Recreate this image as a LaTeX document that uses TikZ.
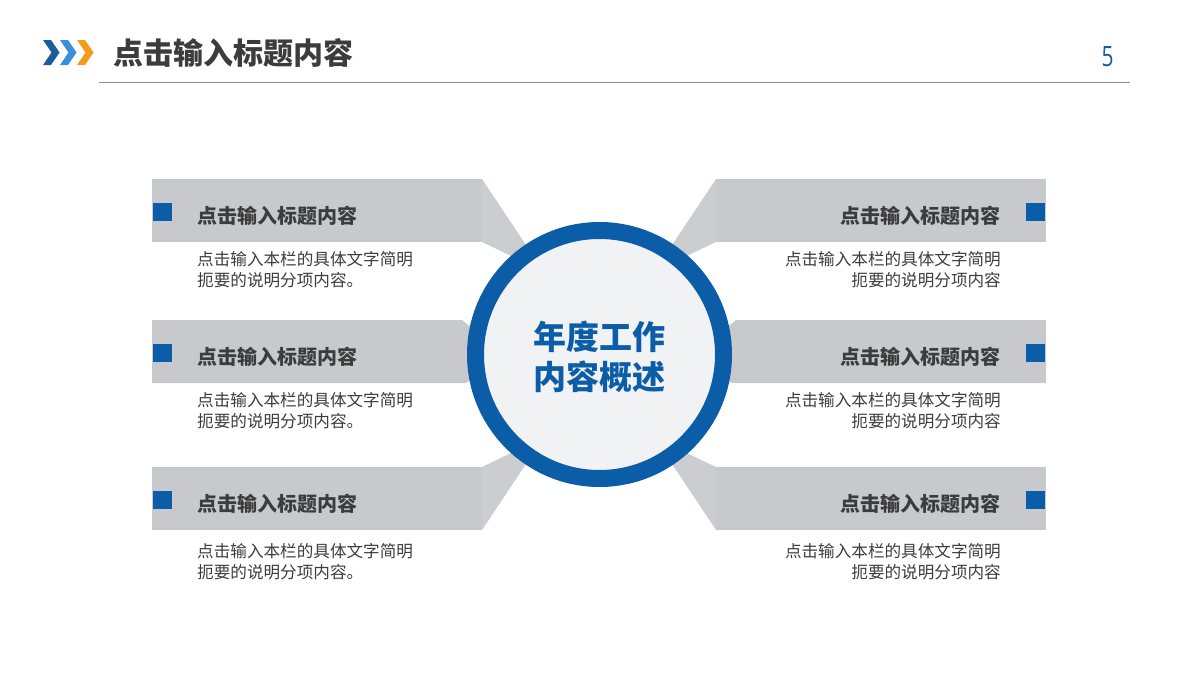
\documentclass[tikz,border=0pt]{standalone}
\usepackage{fontspec}
\newfontfamily\cjk{Noto Sans CJK SC}
\newfontfamily\numfont{Open Sans}
\definecolor{ringblue}{HTML}{0B5DA8}
\definecolor{bannergrey}{HTML}{C8C9CC}
\definecolor{conngrey}{HTML}{CCCDD0}
\definecolor{fillgrey}{HTML}{F1F2F4}
\definecolor{txtdark}{HTML}{3C3C3C}
\definecolor{chevdark}{HTML}{1E5AA0}
\definecolor{chevmid}{HTML}{3A8FDD}
\definecolor{chevorange}{HTML}{F29B1C}
\definecolor{rulegrey}{HTML}{8C8C8C}
\tikzset{
  banner/.style={fill=bannergrey},
  conn/.style={fill=conngrey},
  marker/.style={fill=ringblue},
  ttl/.style={inner sep=0, text=txtdark, font=\cjk\bfseries\fontsize{20}{24}\selectfont},
  desc/.style={inner sep=0, text=txtdark, font=\cjk\fontsize{16.6}{21}\selectfont},
}
\begin{document}
\begin{tikzpicture}[x=1pt,y=-1pt]
\useasboundingbox (0,0) rectangle (1200,680);
% header
\foreach \x/\c in {43/chevdark,60/chevmid,77/chevorange}
  \fill[\c] (\x,40) -- (\x+8,40) -- (\x+16.5,52.5) -- (\x+8,65) -- (\x,65) -- (\x+8.5,52.5) -- cycle;
\node[anchor=west, inner sep=0, text=txtdark, font=\cjk\bfseries\fontsize{30}{34}\selectfont] (head) at (113,53) {点击输入标题内容};
\node[inner sep=0, text=ringblue, font=\numfont\fontsize{28}{30}\selectfont] (page) at (1107.5,57) {\scalebox{0.75}[1]{5}};
\coordinate (rl) at (99,82.5);
\coordinate (rr) at (1130,82.5);
\draw[rulegrey, line width=1.1pt] (rl) -- (rr);
% left connectors
\fill[conn] (482,179) -- (536,260) -- (530,265) -- (482,242) -- cycle;
\fill[conn] (482,530) -- (536,449) -- (530,444) -- (482,467) -- cycle;
% right connectors
\fill[conn] (716,179) -- (662,260) -- (668,265) -- (716,242) -- cycle;
\fill[conn] (716,530) -- (662,449) -- (668,444) -- (716,467) -- cycle;
% banners
\fill[banner] (152,179) rectangle (482,242);
\fill[banner] (152,320) -- (462,320) -- (478,333) -- (478,376) -- (466,383) -- (152,383) -- cycle;
\fill[banner] (152,467) rectangle (482,530);
\fill[banner] (716,179) rectangle (1046,242);
\fill[banner] (1046,320) -- (736,320) -- (720,333) -- (720,376) -- (732,383) -- (1046,383) -- cycle;
\fill[banner] (716,467) rectangle (1046,530);
% markers
\foreach \y in {203,344,491} {
  \fill[marker] (153,\y) rectangle (172,\y+18);
  \fill[marker] (1026,\y) rectangle (1045,\y+18);
}
% hub
\node[circle, draw=ringblue, line width=17pt, fill=fillgrey, minimum size=248pt, inner sep=0] (hub) at (599.5,354.5) {};
\node[text=ringblue, inner sep=0, align=center, font=\cjk\bfseries\fontsize{33}{40}\selectfont] (hubtext) at (599,357) {年度工作\\内容概述};
% left texts
\node[ttl, anchor=west] (tl1) at (197,215.5) {点击输入标题内容};
\node[desc, anchor=west, align=left] (dl1) at (197,269.5) {点击输入本栏的具体文字简明\\扼要的说明分项内容。};
\node[ttl, anchor=west] (tl2) at (197,356.5) {点击输入标题内容};
\node[desc, anchor=west, align=left] (dl2) at (197,411) {点击输入本栏的具体文字简明\\扼要的说明分项内容。};
\node[ttl, anchor=west] (tl3) at (197,503.5) {点击输入标题内容};
\node[desc, anchor=west, align=left] (dl3) at (197,561.5) {点击输入本栏的具体文字简明\\扼要的说明分项内容。};
% right texts
\node[ttl, anchor=east] (tr1) at (1001,215.5) {点击输入标题内容};
\node[desc, anchor=east, align=right] (dr1) at (1001,269.5) {点击输入本栏的具体文字简明\\扼要的说明分项内容};
\node[ttl, anchor=east] (tr2) at (1001,356.5) {点击输入标题内容};
\node[desc, anchor=east, align=right] (dr2) at (1001,411) {点击输入本栏的具体文字简明\\扼要的说明分项内容};
\node[ttl, anchor=east] (tr3) at (1001,503.5) {点击输入标题内容};
\node[desc, anchor=east, align=right] (dr3) at (1001,561.5) {点击输入本栏的具体文字简明\\扼要的说明分项内容};
\end{tikzpicture}
\end{document}
